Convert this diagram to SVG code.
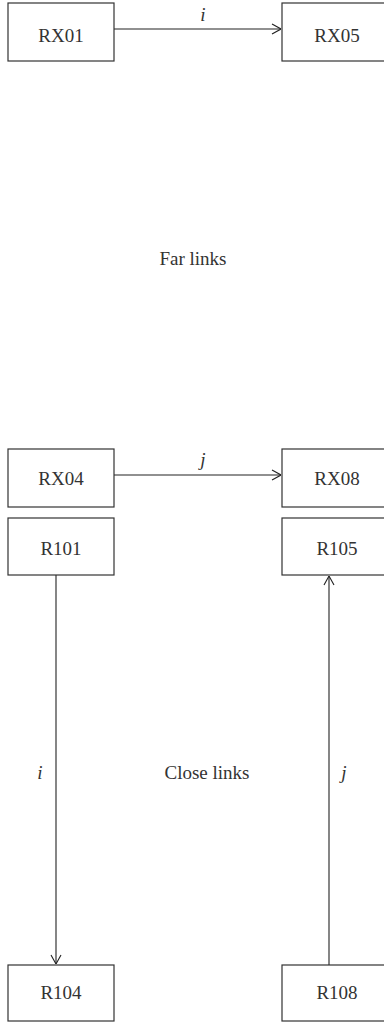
<svg xmlns="http://www.w3.org/2000/svg" width="384" height="1022" viewBox="0 0 384 1022">
<style>
.box{fill:#fff;stroke:#333;stroke-width:1.2}
.lbl{font-family:"Liberation Serif",serif;font-size:19px;fill:#333;text-anchor:middle}
.it{font-style:italic}
.edge{stroke:#222;stroke-width:1.1;fill:none}
</style>
<defs>
<marker id="arr" viewBox="0 0 10 12" refX="10" refY="6" markerWidth="10" markerHeight="12" markerUnits="userSpaceOnUse" orient="auto">
<path d="M1,1 L10,6 L1,11" fill="none" stroke="#222" stroke-width="1.1"/>
</marker>
</defs>
<rect width="384" height="1022" fill="#fff"/>
<g id="connectors">
<line class="edge" x1="114" y1="29" x2="281" y2="29" marker-end="url(#arr)"/>
<line class="edge" x1="114" y1="475" x2="281" y2="475" marker-end="url(#arr)"/>
<line class="edge" x1="56" y1="575" x2="56" y2="964" marker-end="url(#arr)"/>
<line class="edge" x1="329" y1="965" x2="329" y2="576" marker-end="url(#arr)"/>
<text class="lbl it" x="203" y="21">i</text>
<text class="lbl it" x="203" y="466">j</text>
<text class="lbl it" x="40" y="779">i</text>
<text class="lbl it" x="344" y="779">j</text>
</g>
<g id="RX01"><rect class="box" x="8" y="3" width="106" height="58"/><text class="lbl" x="61" y="42">RX01</text></g>
<g id="RX05"><rect class="box" x="282" y="3" width="110" height="58"/><text class="lbl" x="337" y="42">RX05</text></g>
<g id="RX04"><rect class="box" x="8" y="449" width="106" height="58"/><text class="lbl" x="61" y="485">RX04</text></g>
<g id="RX08"><rect class="box" x="282" y="449" width="110" height="58"/><text class="lbl" x="337" y="485">RX08</text></g>
<g id="R101"><rect class="box" x="8" y="518" width="106" height="57"/><text class="lbl" x="61" y="555">R101</text></g>
<g id="R105"><rect class="box" x="282" y="518" width="110" height="57"/><text class="lbl" x="337" y="555">R105</text></g>
<g id="R104"><rect class="box" x="8" y="965" width="106" height="56"/><text class="lbl" x="61" y="999">R104</text></g>
<g id="R108"><rect class="box" x="282" y="965" width="110" height="56"/><text class="lbl" x="337" y="999">R108</text></g>
<g id="far"><text class="lbl" x="193" y="265">Far links</text></g>
<g id="close"><text class="lbl" x="207" y="779">Close links</text></g>
</svg>
